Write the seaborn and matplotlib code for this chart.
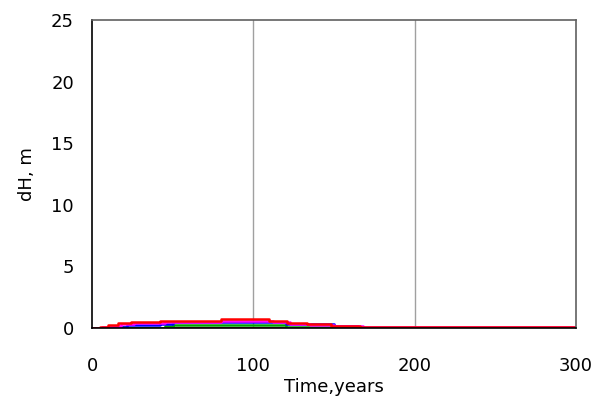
import matplotlib
matplotlib.use("Agg")
import matplotlib.pyplot as plt
import seaborn as sns
import pandas as pd

sns.set_theme(style="white")
plt.rcParams['font.family'] = ['DejaVu Sans']
plt.rcParams['text.color'] = 'black'
plt.rcParams['axes.labelcolor'] = 'black'
plt.rcParams['xtick.color'] = 'black'
plt.rcParams['ytick.color'] = 'black'

years_red = [0, 5, 10, 16, 24, 28, 42, 80, 110, 121, 133, 148, 166, 300]
dh_red = [0.0, 0.1, 0.24, 0.38, 0.45, 0.51, 0.55, 0.7, 0.57, 0.38, 0.33, 0.19, 0.08, 0.08]

years_mag = [0, 6, 12, 18, 26, 30, 45, 80, 112, 123, 135, 150, 168, 200, 235, 280, 300]
dh_mag = [0.0, 0.06, 0.18, 0.3, 0.38, 0.44, 0.48, 0.6, 0.5, 0.32, 0.27, 0.15, 0.08, 0.1, 0.05, 0.05, 0.05]

years_blue = [0, 10, 22, 42, 50, 110, 120, 150, 165, 300]
dh_blue = [0.0, 0.1, 0.25, 0.35, 0.45, 0.45, 0.3, 0.15, 0.03, 0.03]

years_green = [0, 18, 22, 45, 50, 110, 120, 150, 300]
dh_green = [0.0, 0.05, 0.0, 0.15, 0.22, 0.22, 0.08, 0.0, 0.0]

years_gray = [0, 300]
dh_gray = [0.0, 0.0]

years_dred = [0, 165, 300]
dh_dred = [0.0, 0.03, 0.03]

series = [
    ("gray", years_gray, dh_gray, "#808080"),
    ("darkred", years_dred, dh_dred, "#800000"),
    ("green", years_green, dh_green, "#00a000"),
    ("blue", years_blue, dh_blue, "#0000ff"),
    ("magenta", years_mag, dh_mag, "#ff00ff"),
    ("red", years_red, dh_red, "#ff0000"),
]

fig = plt.figure(figsize=(5.99, 3.99), dpi=100)
ax = fig.add_axes([92/599, 1-328/399, (576-92)/599, (328-20)/399])

for name, xs, ys, col in series:
    df = pd.DataFrame({"Time": xs, "dH": ys})
    sns.lineplot(data=df, x="Time", y="dH", ax=ax, color=col, linewidth=1.8,
                 drawstyle="steps-post", legend=False)

ax.set_xlim(0, 300)
ax.set_ylim(0, 25)
ax.set_xticks([0, 100, 200, 300])
ax.set_yticks([0, 5, 10, 15, 20, 25])
for xv in [100, 200]:
    ax.axvline(xv, color="#a0a0a0", linewidth=1, zorder=0)
ax.tick_params(axis="both", direction="in", length=5, width=1, color="black",
               labelsize=13, labelcolor="black")
ax.tick_params(axis="y", pad=13)
ax.tick_params(axis="x", pad=21)
ax.set_xlabel("Time,years", fontsize=13, labelpad=2, color="black")
ax.set_ylabel("dH, m", fontsize=13, labelpad=11, color="black")
for s in ["left", "bottom"]:
    ax.spines[s].set_color("black")
    ax.spines[s].set_linewidth(1.2)
for s in ["top", "right"]:
    ax.spines[s].set_color("#606060")
    ax.spines[s].set_linewidth(1.2)

fig.savefig("out.png", dpi=100)
